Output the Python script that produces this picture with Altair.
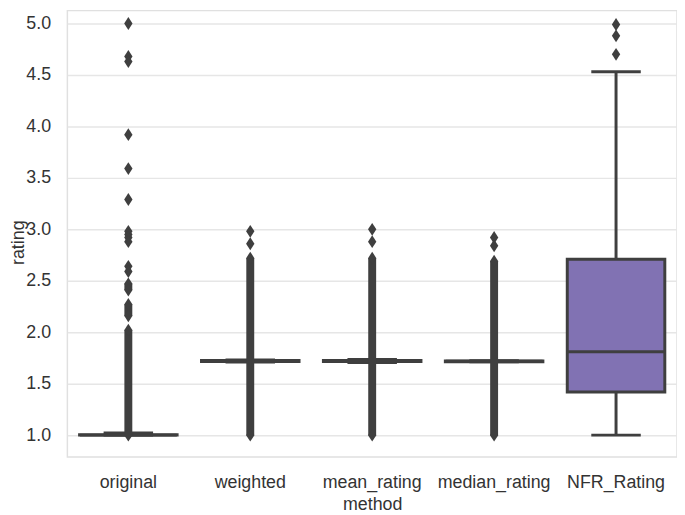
import altair as alt
import pandas as pd

methods = ["original", "weighted", "mean_rating", "median_rating", "NFR_Rating"]
box_q1 = [1.0, 1.715, 1.715, 1.714, 1.42]
box_median = [1.0, 1.72, 1.72, 1.717, 1.81]
box_q3 = [1.005, 1.725, 1.725, 1.72, 2.71]
whisker_lo = [1.0, 1.71, 1.705, 1.712, 1.0]
whisker_hi = [1.02, 1.73, 1.735, 1.722, 4.53]
box_fill = ["#4c72b0", "#dd8452", "#55a868", "#c44e52", "#8172b3"]

# individual outliers
out_method = (["original"] * 17 + ["weighted"] * 3 + ["mean_rating"] * 3
              + ["median_rating"] * 3 + ["NFR_Rating"] * 3)
out_value = [5.0, 4.68, 4.63, 3.92, 3.59, 3.29, 2.98, 2.95, 2.92, 2.88, 2.64, 2.59,
             2.47, 2.41, 2.27, 2.16, 2.02,
             2.98, 2.86, 2.72,
             3.0, 2.88, 2.72,
             2.92, 2.84, 2.69,
             4.99, 4.88, 4.70]

# dense runs of outliers (overlapping markers)
run_method = ["original", "original", "original", "weighted", "mean_rating", "median_rating"]
run_lo = [1.0, 2.16, 2.41, 1.0, 1.0, 1.0]
run_hi = [2.02, 2.27, 2.47, 2.72, 2.72, 2.69]
run_lo_pt = [1.0, 1.0, 1.0, 1.0]
run_lo_method = ["original", "weighted", "mean_rating", "median_rating"]

y_ticks = [1.0, 1.5, 2.0, 2.5, 3.0, 3.5, 4.0, 4.5, 5.0]

box_df = pd.DataFrame({"method": methods, "q1": box_q1, "median": box_median,
                       "q3": box_q3, "lo": whisker_lo, "hi": whisker_hi, "fill": box_fill})
out_df = pd.DataFrame({"method": out_method + run_lo_method,
                       "value": out_value + run_lo_pt})
run_df = pd.DataFrame({"method": run_method, "lo": run_lo, "hi": run_hi})

GRAY = "#3f3f3f"
FONT = "Liberation Sans"
TXT = "#333333"
FS = 18

x_enc = alt.X("method:N", sort=methods, title="method",
              scale=alt.Scale(domain=methods, paddingInner=0, paddingOuter=0),
              axis=alt.Axis(labelAngle=0, ticks=False, domain=False, grid=False,
                            labelFontSize=FS, labelColor=TXT, labelPadding=17,
                            titleFontSize=FS, titleColor=TXT, titleFontWeight="normal",
                            titlePadding=4))
y_scale = alt.Scale(domain=[0.788, 5.125], nice=False, zero=False)
y_axis = alt.Axis(values=y_ticks, format=".1f", ticks=False, domain=False, grid=True,
                  gridColor="#e6e6e6", gridWidth=1.5,
                  labelFontSize=FS, labelColor=TXT, labelPadding=17,
                  titleFontSize=FS, titleColor=TXT, titleFontWeight="normal",
                  titleX=-58, titleY=234, titleBaseline="top")

base = alt.Chart(box_df)

boxes = base.mark_bar(width={"band": 0.8}, stroke=GRAY, strokeWidth=3).encode(
    x=x_enc,
    y=alt.Y("q1:Q", scale=y_scale, axis=y_axis, title="rating"),
    y2="q3:Q",
    fill=alt.Fill("fill:N", scale=None),
)
whisk_lo = base.mark_rule(color=GRAY, strokeWidth=3).encode(
    x=alt.X("method:N", sort=methods), y="lo:Q", y2="q1:Q")
whisk_hi = base.mark_rule(color=GRAY, strokeWidth=3).encode(
    x=alt.X("method:N", sort=methods), y="q3:Q", y2="hi:Q")
cap_lo = base.mark_tick(color=GRAY, size=50, thickness=3, opacity=1).encode(
    x=alt.X("method:N", sort=methods), y="lo:Q")
cap_hi = base.mark_tick(color=GRAY, size=50, thickness=3, opacity=1).encode(
    x=alt.X("method:N", sort=methods), y="hi:Q")
med = base.mark_tick(color=GRAY, size=98, thickness=3, opacity=1).encode(
    x=alt.X("method:N", sort=methods), y="median:Q")

runs = alt.Chart(run_df).mark_rule(color=GRAY, strokeWidth=8).encode(
    x=alt.X("method:N", sort=methods), y="lo:Q", y2="hi:Q")
fliers = alt.Chart(out_df).mark_point(
    shape="M0,-1L0.65,0L0,1L-0.65,0Z", filled=True, size=169, color=GRAY,
    opacity=1, strokeWidth=0).encode(
    x=alt.X("method:N", sort=methods), y="value:Q")

chart = alt.layer(boxes, whisk_lo, whisk_hi, cap_lo, cap_hi, med, runs, fliers).properties(
    width=616, height=451,
    autosize=alt.AutoSizeParams(type="none"),
    padding={"left": 60, "top": 0, "right": 0, "bottom": 56},
).configure(font=FONT, background="white").configure_view(
    stroke="#e0e0e0", strokeWidth=1.5)

chart.save("out.html", embed_options={"renderer": "svg", "actions": False})
